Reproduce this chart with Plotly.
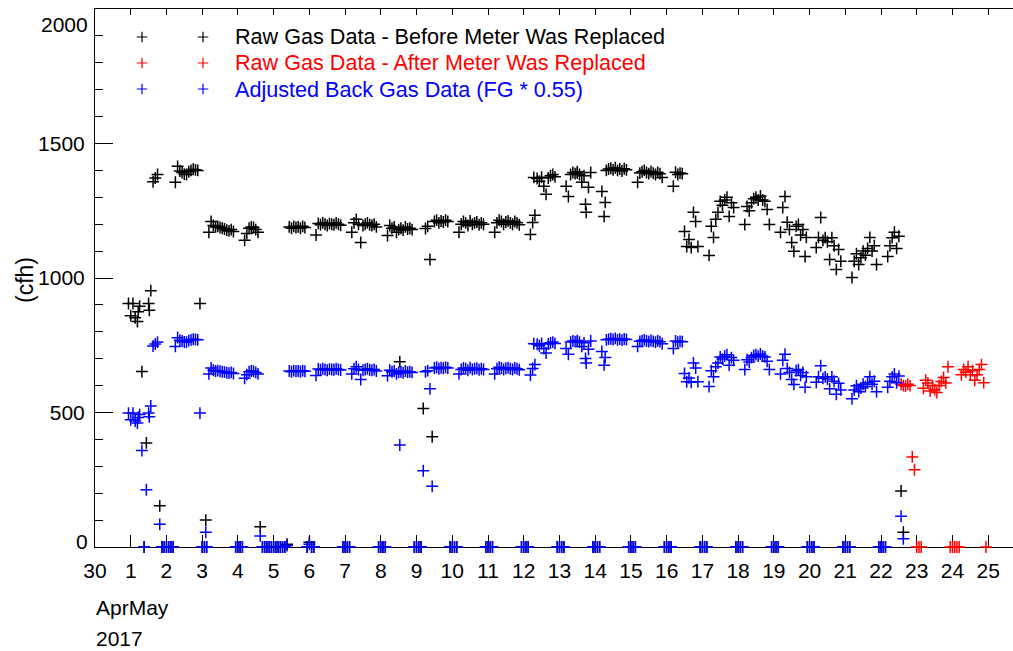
import pandas as pd
import plotly.graph_objects as go

# ---------------- data (cfh) ----------------
# Raw gas data before the meter was replaced: one reading every 90 minutes,
# starting 2017-04-30 22:30 (each row = 22:30 previous day .. 21:00)
raw_before_start = "2017-04-30 22:30"
raw_before_cfh = [
    905, 860, 905, 852, 838, 895, 652, 0, 387, 905, 953, 1358, 1372, 1385, 153, 0,          # May 1
    0, 0, 0, 0, 0, 1356, 1415, 1398, 1392, 1386, 1385, 1395, 1400, 1404, 1402, 1400,         # May 2
    905, 0, 0, 0, 1170, 1210, 1195, 1190, 1192, 1188, 1185, 1182, 1178, 1175, 1180, 1173,    # May 3
    0, 0, 0, 0, 1140, 1165, 1185, 1190, 1188, 1180, 1170, 75, 0, 0, 0, 0,                    # May 4
    0, 0, 0, 0, 0, 0, 0, 10, 1190, 1185, 1192, 1188, 1190, 1185, 1192, 1188,                 # May 5
    0, 18, 0, 0, 1160, 1203, 1198, 1205, 1200, 1195, 1202, 1200, 1198, 1205, 1200, 1196,     # May 6
    0, 0, 0, 0, 1170, 1205, 1218, 1200, 1132, 1195, 1200, 1205, 1198, 1195, 1200, 1190,      # May 7
    0, 0, 0, 0, 1158, 1195, 1185, 1190, 1170, 1180, 1185, 1178, 1190, 1182, 1185, 1180,      # May 8
    0, 0, 0, 0, 515, 1184, 1192, 1069, 410, 1210, 1215, 1205, 1212, 1208, 1215, 1210,        # May 9
    0, 0, 0, 0, 1170, 1200, 1210, 1205, 1195, 1212, 1200, 1205, 1208, 1198, 1205, 1200,      # May 10
    0, 0, 0, 0, 1170, 1205, 1215, 1210, 1200, 1208, 1212, 1205, 1200, 1210, 1205, 1198,      # May 11
    0, 0, 0, 0, 1162, 1206, 1233, 1370, 1360, 1375, 1341, 1311, 1372, 1380, 1385, 1376,      # May 12
    0, 0, 0, 0, 1341, 1303, 1385, 1392, 1388, 1390, 1385, 1356, 1380, 1244, 1337, 1392,      # May 13
    0, 0, 0, 0, 1322, 1229, 1400, 1405, 1408, 1402, 1410, 1400, 1405, 1398, 1406, 1402,      # May 14
    0, 0, 0, 0, 1356, 1390, 1395, 1400, 1392, 1388, 1396, 1390, 1385, 1392, 1388, 1374,      # May 15
    0, 0, 0, 0, 1341, 1393, 1385, 1390, 1388, 1173, 1117, 1143, 1113, 1244, 1210, 1117,      # May 16
    0, 0, 0, 0, 1084, 1192, 1151, 1218, 1244, 1285, 1270, 1290, 1300, 1229, 1280, 1262,      # May 17
    0, 0, 0, 0, 1199, 1266, 1250, 1280, 1295, 1300, 1290, 1305, 1290, 1285, 1255, 1199,      # May 18
    0, 0, 0, 0, 1170, 1262, 1303, 1207, 1180, 1132, 1099, 1192, 1199, 1160, 1180, 1080,      # May 19
    0, 0, 0, 0, 1113, 1151, 1225, 1140, 1150, 1135, 1069, 1150, 1120, 1032, 1106, 1062,      # May 20
    0, 0, 0, 0, 1002, 1062, 1090, 1050, 1075, 1100, 1085, 1110, 1151, 1100, 1120, 1050,      # May 21
    0, 0, 0, 0, 1080, 1120, 1150, 1170, 1110, 1155, 208, 55,                                 # May 22
]
# irregular extra readings of the old meter
raw_before_extra_time = ["2017-05-01 05:00", "2017-05-01 12:30", "2017-05-03 02:25",
                         "2017-05-08 12:45", "2017-05-12 06:45",
                         "2017-05-13 12:00", "2017-05-13 17:30", "2017-05-14 06:45",
                         "2017-05-19 21:50"]
raw_before_extra_cfh = [875, 880, 100, 689, 1374, 1395, 1274, 1281, 1151]

# Raw gas data after the meter was replaced (every 90 minutes)
raw_after_start = "2017-05-22 13:30"
raw_after_cfh = [605, 600, 598, 605, 600, 335, 287, 0, 0, 0,
                 590, 620, 610, 580, 600, 585, 574, 600, 615, 630, 610, 670,
                 0, 0, 0, 0, 0,
                 640, 660, 650, 670, 640, 655, 620, 640, 660, 678, 611, 0]

ADJUST_FACTOR = 0.55  # "FG * 0.55"

legend_labels = ["Raw Gas Data - Before Meter Was Replaced",
                 "Raw Gas Data - After Meter Was Replaced",
                 "Adjusted Back Gas Data (FG * 0.55)"]

x_ticks_start = "2017-04-30"
x_range = ["2017-04-30 00:00", "2017-05-25 16:40"]
y_range = [0, 2000]
y_major = [0, 500, 1000, 1500, 2000]

# ---------------- derived ----------------
FREQ = "90min"
before_t = list(pd.date_range(raw_before_start, periods=len(raw_before_cfh), freq=FREQ)) + \
    list(pd.to_datetime(raw_before_extra_time))
before_v = raw_before_cfh + raw_before_extra_cfh
after_t = list(pd.date_range(raw_after_start, periods=len(raw_after_cfh), freq=FREQ))
adjusted_v = [v * ADJUST_FACTOR for v in before_v]

BLACK, RED, BLUE = "#000000", "#ff0000", "#0000ff"
FONT = "Liberation Sans, Arial, sans-serif"
FS = 21
W, H = 1013, 651
L, R, T, B = 95, 0, 9, 104
PW, PH = W - L - R, H - T - B


def px(xp):
    return (xp - L) / PW


def py(yp):
    return (H - B - yp) / PH


def mk(color):
    return dict(symbol="cross-thin", size=8.5, color=color, line=dict(width=1.5, color=color))


fig = go.Figure()
fig.add_trace(go.Scatter(x=before_t, y=before_v, mode="markers", marker=mk(BLACK),
                         cliponaxis=False, showlegend=False, name=legend_labels[0]))
fig.add_trace(go.Scatter(x=after_t, y=raw_after_cfh, mode="markers", marker=mk(RED),
                         cliponaxis=False, showlegend=False, name=legend_labels[1]))
fig.add_trace(go.Scatter(x=before_t, y=adjusted_v, mode="markers", marker=mk(BLUE),
                         cliponaxis=False, showlegend=False, name=legend_labels[2]))
# helper (empty) trace so the top mirror axis is drawn
fig.add_trace(go.Scatter(x=[], y=[], xaxis="x2", yaxis="y", showlegend=False, hoverinfo="skip"))

# custom legend keys (two symbols per row, IDL style) on a pixel-based overlay axis
leg_rows = [37, 63, 89]
leg_cols = [142, 203]
for color, row in zip([BLACK, RED, BLUE], leg_rows):
    fig.add_trace(go.Scatter(x=leg_cols, y=[row] * len(leg_cols), xaxis="x3", yaxis="y3",
                             mode="markers",
                             marker=dict(symbol="cross-thin", size=7.5, color=color,
                                         line=dict(width=1.2, color=color)),
                             cliponaxis=False, showlegend=False, hoverinfo="skip"))

annotations = []
for label, color, row in zip(legend_labels, [BLACK, RED, BLUE], leg_rows):
    annotations.append(dict(x=px(233), y=py(row), xref="paper", yref="paper", text=label,
                             showarrow=False, xanchor="left", yanchor="middle",
                             font=dict(family=FONT, size=21.6, color=color)))
# y tick labels at the ends (IDL shifts them inside the axis span)
annotations.append(dict(x=px(90), y=py(541), xref="paper", yref="paper", text="0",
                        showarrow=False, xanchor="right", yanchor="middle",
                        font=dict(family=FONT, size=FS, color=BLACK)))
annotations.append(dict(x=px(90), y=py(25), xref="paper", yref="paper", text="2000",
                        showarrow=False, xanchor="right", yanchor="middle",
                        font=dict(family=FONT, size=FS, color=BLACK)))
# y title
annotations.append(dict(x=px(25), y=py(280), xref="paper", yref="paper", text="(cfh)",
                        textangle=-90, showarrow=False, xanchor="center", yanchor="middle",
                        font=dict(family=FONT, size=FS + 2, color=BLACK)))
# month / year lines under the day ticks
annotations.append(dict(x=px(94), y=py(607), xref="paper", yref="paper", text="AprMay",
                        showarrow=False, xanchor="left", yanchor="middle",
                        font=dict(family=FONT, size=FS, color=BLACK)))
annotations.append(dict(x=px(94), y=py(638), xref="paper", yref="paper", text="2017",
                        showarrow=False, xanchor="left", yanchor="middle",
                        font=dict(family=FONT, size=FS, color=BLACK)))

xcommon = dict(type="date", range=x_range, tickmode="linear", tick0=x_ticks_start,
               dtick=86400000, showgrid=False, zeroline=False, showline=True,
               linecolor=BLACK, linewidth=1, tickcolor=BLACK, tickwidth=1,
               ticks="inside", layer="below traces")

fig.update_layout(
    width=W, height=H, autosize=False,
    margin=dict(l=L, r=R, t=T, b=B, pad=0),
    paper_bgcolor="white", plot_bgcolor="white",
    font=dict(family=FONT, size=FS, color=BLACK),
    xaxis=dict(**xcommon, ticklen=12, tickformat="%-d",
               tickfont=dict(family=FONT, size=FS, color=BLACK), ticklabelstandoff=5),
    xaxis2=dict(**xcommon, ticklen=6, overlaying="x", matches="x", side="top",
                anchor="y", showticklabels=False),
    yaxis=dict(range=y_range, tickmode="array", tickvals=y_major,
               ticktext=["", "500", "1000", "1500", ""],
               ticks="inside", ticklen=18, tickwidth=1, tickcolor=BLACK,
               minor=dict(tickmode="linear", tick0=0, dtick=100, ticks="inside",
                          ticklen=8, tickwidth=1, tickcolor=BLACK),
               showline=True, linecolor=BLACK, linewidth=1, showgrid=False,
               zeroline=False, tickfont=dict(family=FONT, size=FS, color=BLACK),
               ticklabelstandoff=5, layer="below traces"),
    xaxis3=dict(domain=[0, 1], range=[L, W - R], visible=False, anchor="y3",
                overlaying="x"),
    yaxis3=dict(domain=[0, 1], range=[H - B, T], visible=False, anchor="x3",
                overlaying="y"),
    annotations=annotations,
    showlegend=False,
)

fig.write_html("out.html",
               config={"displayModeBar": False},
               post_script="document.body.style.margin='0px';"
                           "document.body.style.overflow='hidden';")
